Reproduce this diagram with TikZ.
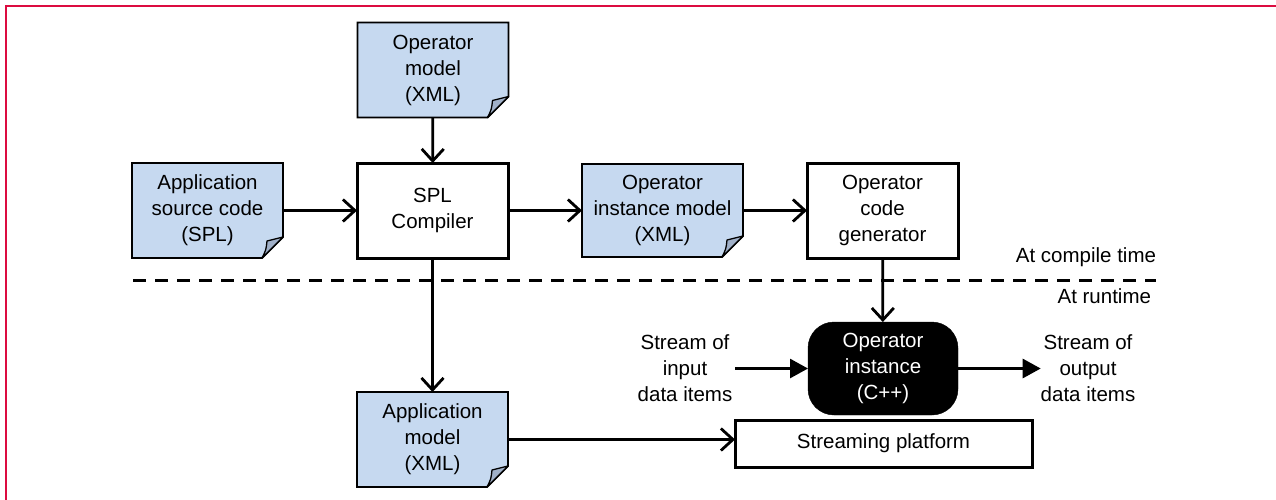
\documentclass[tikz,border=0pt]{standalone}
\usepackage{fontspec}
\setmainfont{Liberation Sans}
\usetikzlibrary{arrows.meta,backgrounds}
\definecolor{docblue}{RGB}{198,217,240}
\definecolor{foldc}{RGB}{160,176,200}
\definecolor{frame}{RGB}{220,12,64}
\newcommand\docshape[1]{%
  \filldraw[fill=docblue,draw=black,line width=1.9pt,line join=miter]
    (#1.north west) -- (#1.north east) -- ([yshift=21pt]#1.south east)
    -- ([xshift=-21pt]#1.south east) -- (#1.south west) -- cycle;
  \filldraw[fill=foldc,draw=black,line width=1.3pt,line join=round]
    ([yshift=21pt]#1.south east) -- ([xshift=-21pt]#1.south east)
    .. controls ([xshift=-17pt,yshift=8pt]#1.south east) .. ([xshift=-16pt,yshift=17pt]#1.south east)
    -- cycle;}
\begin{document}
\begin{tikzpicture}[x=1pt,y=-1pt,
  every node/.style={font=\fontsize{20.5pt}{26pt}\selectfont, align=center, inner sep=0pt, outer sep=0pt},
  doc/.style={minimum width=151pt, minimum height=95pt},
  proc/.style={draw=black, fill=white, line width=3pt, minimum width=151pt, minimum height=95pt},
  arr/.style={line width=2.8pt, -{Straight Barb[length=12pt,width=22pt,line width=2.8pt]}},
  tarr/.style={line width=2.8pt, -{Triangle[length=18pt,width=19pt]}}]
\useasboundingbox (0,0) rectangle (1276,499);
\draw[frame, line width=2.2pt] (1277,6) -- (6,6) -- (6,500);

\node[doc] (om) at (433,70) {Operator\\model\\(XML)};
\node[doc] (asc) at (207.5,210.5) {Application\\source code\\(SPL)};
\node[proc] (spl) at (432.5,210.5) {SPL\\Compiler};
\node[doc, minimum width=161pt, minimum height=93pt] (oim) at (662.5,210.5) {Operator\\instance model\\(XML)};
\node[proc] (ocg) at (882.5,210.5) {Operator\\code\\generator};
\node[doc] (am) at (432.5,439.5) {Application\\model\\(XML)};
\node[draw=black, fill=black, text=white, rounded corners=26pt, minimum width=150pt, minimum height=93pt] (oi) at (883,368.5) {Operator\\instance\\(C++)};
\node[draw=black, fill=white, line width=3pt, minimum width=297pt, minimum height=47pt] (sp) at (883.5,443.5) {Streaming platform};
\node (sin) at (685,368) {Stream of\\input\\data items};
\node (sout) at (1088,368) {Stream of\\output\\data items};
\node[anchor=east] (ct) at (1156,257) {At compile time};
\node[anchor=east] (rt) at (1151,296) {At runtime};
\coordinate (dl) at (133,280);
\coordinate (dr) at (1156,280);
\coordinate (sinx) at (735,368.5);

\begin{pgfonlayer}{background}
\docshape{om}
\docshape{asc}
\docshape{oim}
\docshape{am}
\end{pgfonlayer}

\draw[line width=3pt, dash pattern=on 13pt off 9pt] (dl) -- (dr);

\draw[arr] (om) -- (spl);
\draw[arr] (asc) -- (spl);
\draw[arr] (spl) -- (oim);
\draw[arr] (oim) -- (ocg);
\draw[arr] (spl) -- (am);
\draw[arr] (ocg) -- (oi);
\draw[arr] (am.east) -- (am.east -| sp.west);
\draw[tarr] (sinx) -- (oi.west);
\draw[tarr] (oi.east) -- (oi.east -| sout.west);
\end{tikzpicture}
\end{document}
